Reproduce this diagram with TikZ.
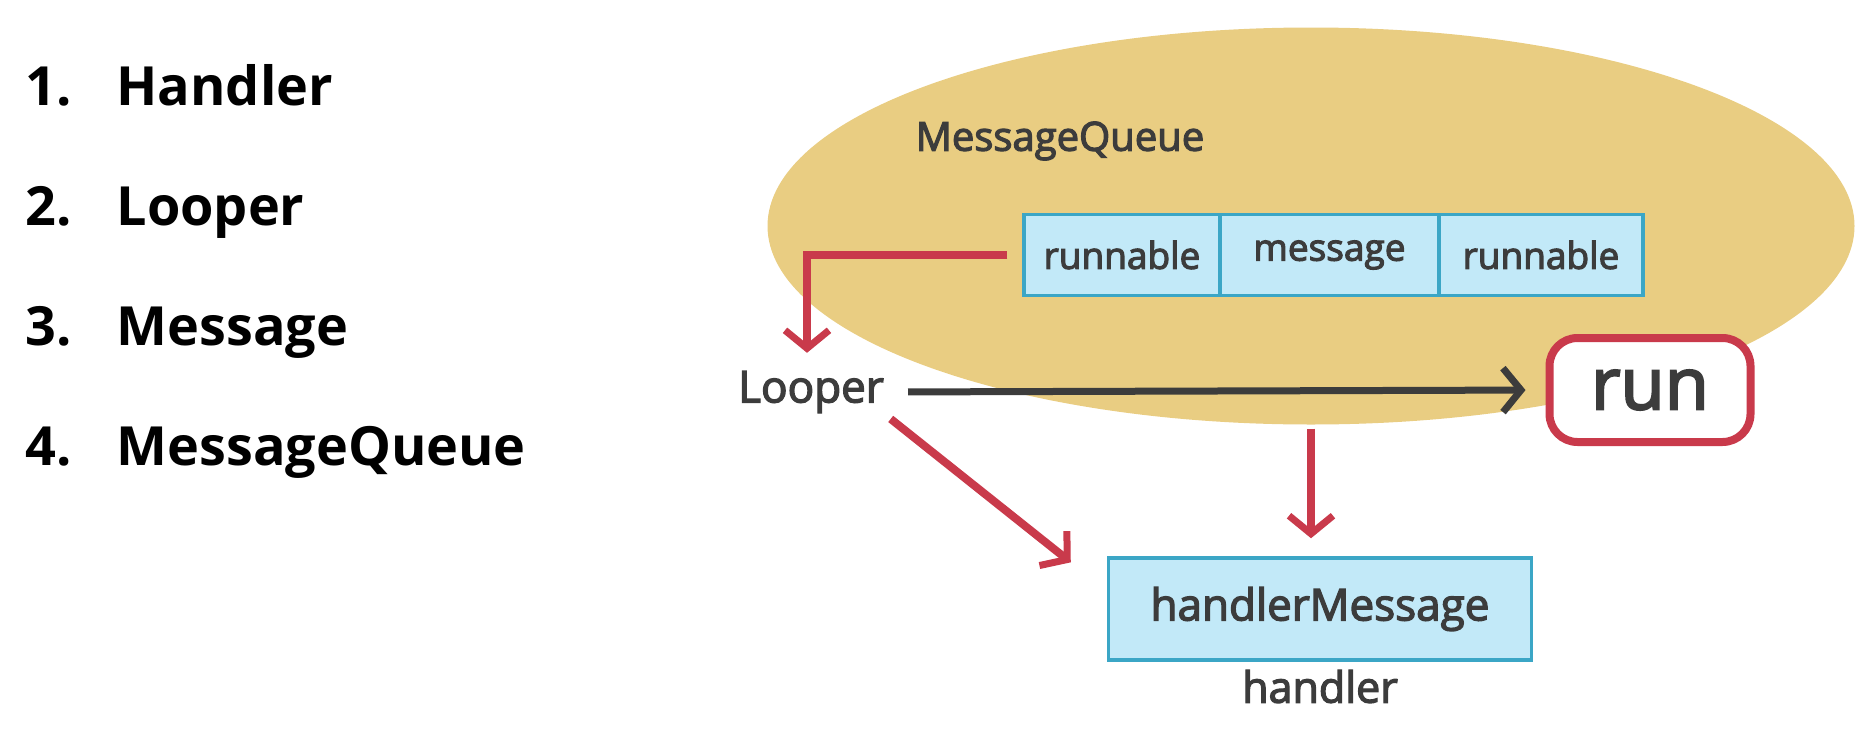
\documentclass[tikz,border=0pt]{standalone}
\usepackage{fontspec}
\setmainfont{Open Sans}
\newfontfamily\diagfont{Open Sans}[FakeBold=3]
\usetikzlibrary{arrows.meta,positioning,shapes.geometric}

\definecolor{mqgold}{HTML}{E9CD82}
\definecolor{qblue}{HTML}{C2E9F8}
\definecolor{qedge}{HTML}{3BA6C6}
\definecolor{flowred}{HTML}{C93A4B}
\definecolor{txtgray}{HTML}{3C3C3C}

\tikzset{
  qcell/.style={draw=qedge, fill=qblue, line width=3.5pt, minimum height=81pt, inner sep=0pt, text=txtgray, font=\diagfont\fontsize{37}{40}\selectfont},
  barb/.style={-{Straight Barb[length=18pt,width=44pt,line width=7pt]}},
  redflow/.style={draw=flowred, line width=8pt, barb},
  listitem/.style={anchor=base west, font=\bfseries\fontsize{54}{58}\selectfont},
  plain/.style={text=txtgray, inner sep=2pt},
}

\begin{document}
\begin{tikzpicture}[x=1pt,y=-1pt]
\useasboundingbox (0,0) rectangle (1874,731);
% the list on the left
\foreach \w [count=\i] in {Handler,Looper,Message,MessageQueue}{
  \node[listitem] (num\i) at (22, -15+120*\i) {\i.};
  \node[listitem] (item\i) at (113, -15+120*\i) {\w};
}

\node[ellipse, fill=mqgold, minimum width=1087pt, minimum height=397pt, inner sep=0pt] (mq) at (1311,226) {};
\node[plain, font=\diagfont\fontsize{40}{44}\selectfont] (mqlabel) at (1060,141) {MessageQueue};

\node[qcell, minimum width=196pt] (q1) at (1122,255) {runnable};
\node[qcell, minimum width=219pt] (q2) at (1329.5,255) {message};
\node[qcell, minimum width=204pt] (q3) at (1541,255) {runnable};

\node[plain, font=\diagfont\fontsize{44}{48}\selectfont] (looper) at (811,392) {Looper};
\node[draw=flowred, line width=8pt, rounded corners=28pt, fill=white, minimum width=201pt, minimum height=104pt, text=txtgray, font=\diagfont\fontsize{72}{76}\selectfont] (run) at (1650,390) {run};

\node[qcell, minimum width=423pt, minimum height=102pt, font=\diagfont\fontsize{44}{48}\selectfont] (hm) at (1320,609) {handlerMessage};
\node[plain, font=\diagfont\fontsize{43}{46}\selectfont, below=6pt of hm] (hlabel) {handler};

\draw[redflow, shorten <=15pt, shorten >=16pt] (q1.west) -| ([xshift=-4pt]looper.north);
\draw[draw=txtgray, line width=7pt, barb, shorten <=22pt, shorten >=20pt] (looper.east) -- (run.west);
\draw[redflow, shorten <=4pt, shorten >=18pt] (mq.south) -- (mq.south |- hm.north);
\draw[redflow, shorten <=6pt, shorten >=46pt] (looper.south east) -- ([yshift=18pt]hm.west);
\end{tikzpicture}
\end{document}
